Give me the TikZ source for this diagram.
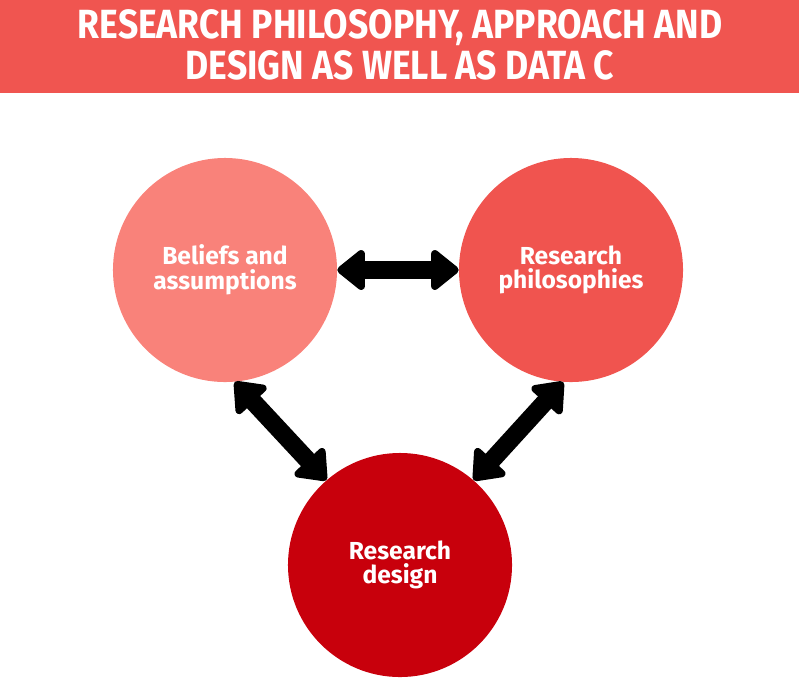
\documentclass[tikz,border=0pt]{standalone}
\usepackage{fontspec}
\setmainfont{Fira Sans}
\newfontfamily\headfont[FakeStretch=0.87]{Fira Sans}
\usetikzlibrary{arrows.meta,positioning}
\definecolor{banner}{RGB}{240,85,80}
\definecolor{beliefred}{RGB}{249,130,122}
\definecolor{philred}{RGB}{240,84,79}
\definecolor{designred}{RGB}{200,0,12}

\begin{document}
\begin{tikzpicture}[x=0.025cm,y=-0.025cm,
  bubble/.style={circle,minimum size=5.6cm,inner sep=0pt,text=white,
    font=\fontsize{17.5}{17.5}\selectfont\bfseries,align=center},
  link/.style={{Triangle[length=0.75cm,width=1.15cm,round]}-{Triangle[length=0.75cm,width=1.15cm,round]},
    line width=0.45cm,black},
]
  \useasboundingbox (0,0) rectangle (799,678);
  \fill[banner] (0,0) rectangle (799,93);
  \node[text=white,align=center,font=\headfont\fontsize{29}{29}\selectfont\bfseries] (title) at (400,45)
    {RESEARCH PHILOSOPHY, APPROACH AND\\DESIGN AS WELL AS DATA C};

  \node[bubble,fill=beliefred] (beliefs) at (225,270) {Beliefs and\\assumptions};
  \node[bubble,fill=philred] (phil) at (571,270) {Research\\philosophies};
  \node[bubble,fill=designred] (design) at (400,565) {Research\\design};

  \draw[link] (beliefs.east) -- (phil.west);
  \draw[link] (beliefs.-85) -- (design.131);
  \draw[link] (phil.-94) -- (design.49);
\end{tikzpicture}
\end{document}
